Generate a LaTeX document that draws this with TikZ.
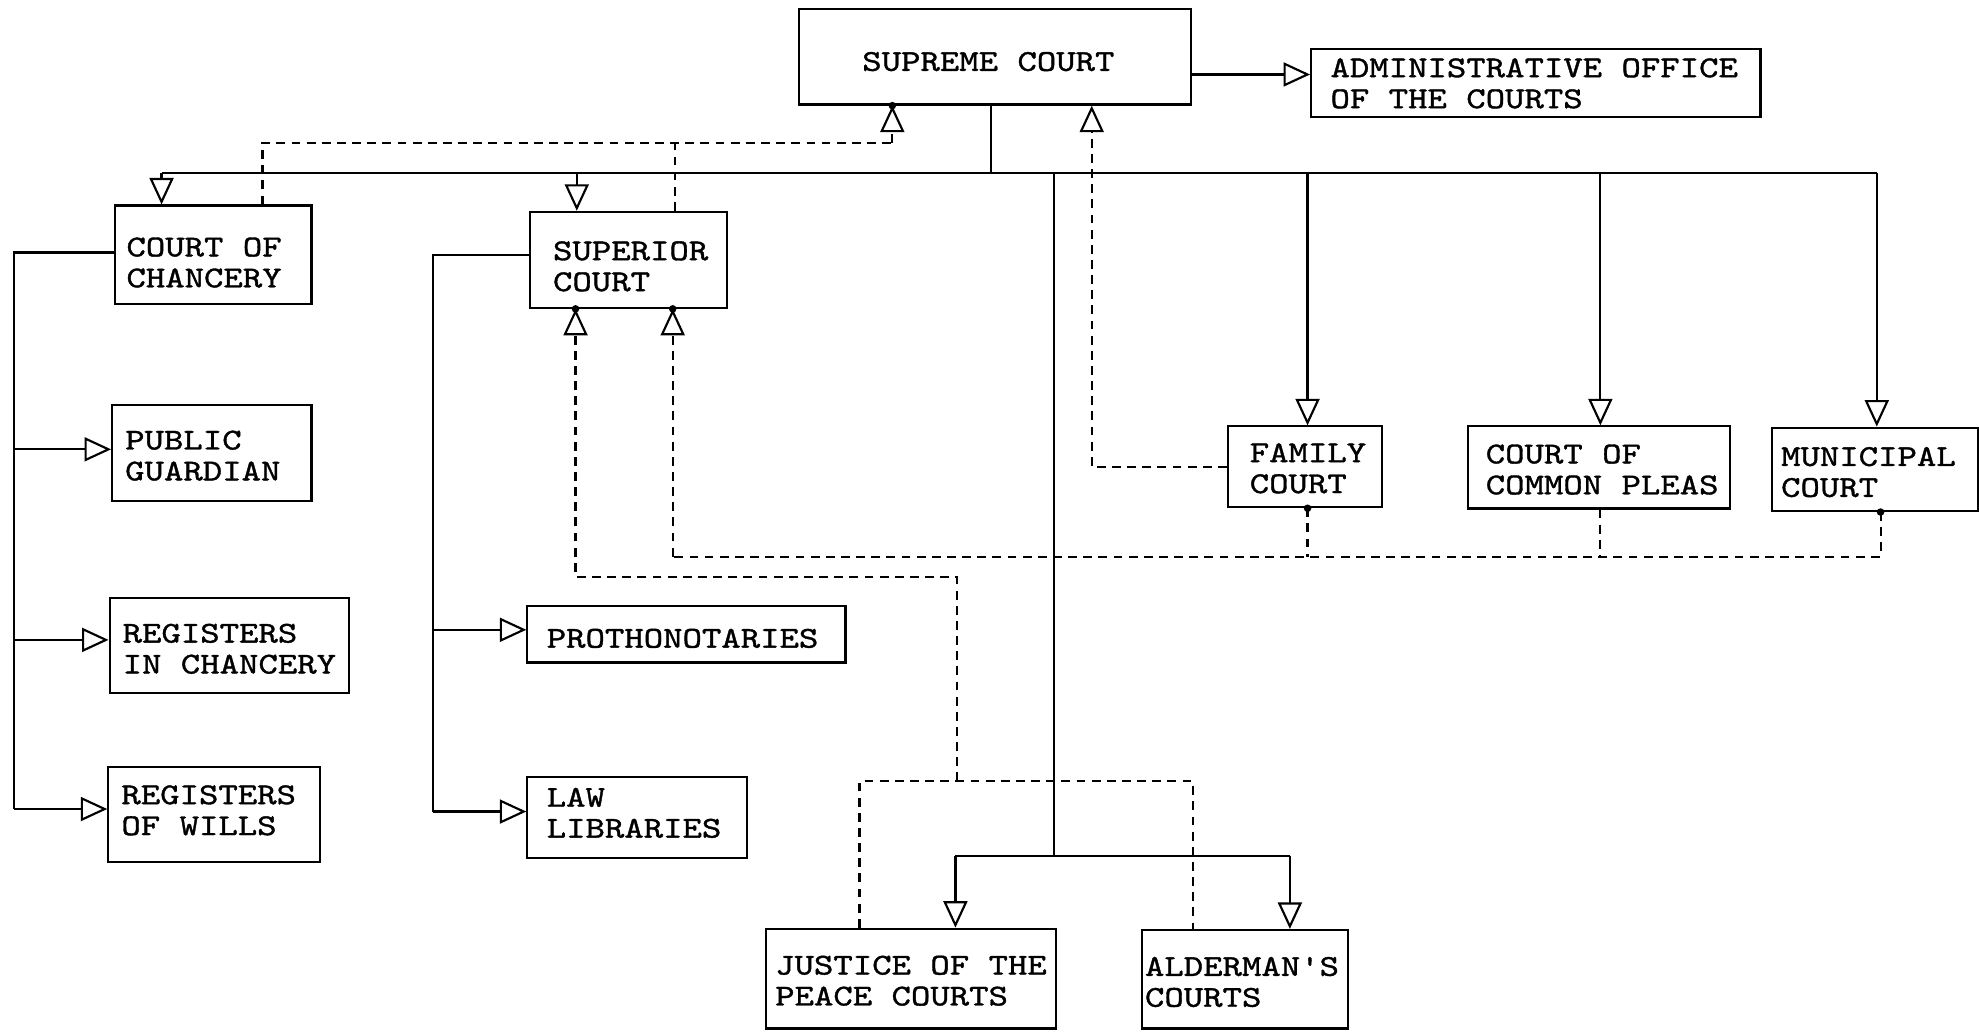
\documentclass[tikz,border=0pt]{standalone}
\usepackage{fontspec}
\usetikzlibrary{arrows.meta}
\newfontfamily\twfont{lmmono10-regular.otf}[FakeStretch=1.22, FakeBold=1.2]
\newcommand\typefont{\fontsize{24}{24.5}\twfont}
\tikzset{
  box/.style={draw, line width=1.7pt, inner sep=0pt, anchor=north west},
  lbl/.style={inner sep=0pt, anchor=north west, align=left, font=\typefont},
  ln/.style={line width=1.7pt},
  arr/.style={ln, -{Triangle[open, length=21pt, width=19pt, line width=1.7pt]}},
  dsh/.style={line width=1.7pt, dash pattern=on 7pt off 5pt},
  darr/.style={dsh, -{Triangle[open, length=21pt, width=19pt, line width=1.7pt]}},
}
\begin{document}
\begin{tikzpicture}[x=1pt,y=-1pt]
\useasboundingbox (0,0) rectangle (1568,817);
% boxes
\node[box, minimum width=311pt, minimum height=76pt] (sup) at (632,6) {};
\node[box, minimum width=356pt, minimum height=54pt] (adm) at (1038,38) {};
\node[box, minimum width=156pt, minimum height=78pt] (chan) at (90,162) {};
\node[box, minimum width=156pt, minimum height=76pt] (supr) at (419,167) {};
\node[box, minimum width=158pt, minimum height=76pt] (pg) at (88,320) {};
\node[box, minimum width=190pt, minimum height=75pt] (ric) at (86,473) {};
\node[box, minimum width=168pt, minimum height=75pt] (rw) at (85,607) {};
\node[box, minimum width=252pt, minimum height=45pt] (pro) at (417,479) {};
\node[box, minimum width=174pt, minimum height=64pt] (law) at (417,615) {};
\node[box, minimum width=122pt, minimum height=64pt] (fam) at (972,337) {};
\node[box, minimum width=208pt, minimum height=65pt] (ccp) at (1162,337) {};
\node[box, minimum width=163pt, minimum height=66pt] (mun) at (1403,338) {};
\node[box, minimum width=230pt, minimum height=79pt] (jp) at (606,735) {};
\node[box, minimum width=163pt, minimum height=78pt] (ald) at (904,736) {};
% texts
\node[lbl] (supT) at (683,41) {SUPREME COURT};
\node[lbl] (admT) at (1054,46) {ADMINISTRATIVE OFFICE\\OF THE COURTS};
\node[lbl] (chanT) at (100,188) {COURT OF\\CHANCERY};
\node[lbl] (suprT) at (438,191) {SUPERIOR\\COURT};
\node[lbl] (pgT) at (99,341) {PUBLIC\\GUARDIAN};
\node[lbl] (ricT) at (97,494) {REGISTERS\\IN CHANCERY};
\node[lbl] (rwT) at (96,622) {REGISTERS\\OF WILLS};
\node[lbl] (proT) at (433,498) {PROTHONOTARIES};
\node[lbl] (lawT) at (433,624) {LAW\\LIBRARIES};
\node[lbl] (famT) at (990,351) {FAMILY\\COURT};
\node[lbl] (ccpT) at (1177,352) {COURT OF\\COMMON PLEAS};
\node[lbl] (munT) at (1411,354) {MUNICIPAL\\COURT};
\node[lbl] (jpT) at (614,757) {JUSTICE OF THE\\PEACE COURTS};
\node[lbl] (aldT) at (907,758) {ALDERMAN'S\\COURTS};
% solid connectors
\coordinate (busL) at (128,137);
\coordinate (busR) at (1487,137);
\draw[ln] (785,0 |- sup.south) -- (785,137);
\draw[ln] (busL) -- (busR);
\draw[arr] (busL) -- (busL |- chan.north);
\draw[arr] (457,137) -- (457,0 |- supr.north);
\draw[arr] (1036,137) -- (1036,0 |- fam.north);
\draw[arr] (1268,137) -- (1268,0 |- ccp.north);
\draw[arr] (busR) -- (busR |- mun.north);
\draw[ln] (835,137) -- (835,678);
\draw[ln] (757,678) -- (1022,678);
\draw[arr] (757,678) -- (757,0 |- jp.north);
\draw[arr] (1022,678) -- (1022,0 |- ald.north);
\draw[arr] (sup.east |- 0,59) -- (adm.west |- 0,59);
\draw[ln] (chan.west |- 0,200) -- (11,200) -- (11,641);
\draw[arr] (11,356) -- (pg.west |- 0,356);
\draw[arr] (11,507) -- (ric.west |- 0,507);
\draw[arr] (11,641) -- (rw.west |- 0,641);
\draw[ln] (supr.west |- 0,202) -- (343,202) -- (343,643);
\draw[arr] (343,499) -- (pro.west |- 0,499);
\draw[arr] (343,643) -- (law.west |- 0,643);
% dashed connectors
\draw[dsh] (208,0 |- chan.north) -- (208,113) -- (707,113);
\draw[darr] (707,113) -- (707,0 |- sup.south);
\draw[dsh] (535,0 |- supr.north) -- (535,113);
\draw[darr] (fam.west |- 0,370) -- (865,370) -- (865,0 |- sup.south);
\draw[dsh] (1036,0 |- fam.south) -- (1036,441);
\draw[dsh] (1268,0 |- ccp.south) -- (1268,441);
\draw[dsh] (1490,0 |- mun.south) -- (1490,441) -- (533,441);
\draw[darr] (533,441) -- (533,0 |- supr.south);
\draw[dsh] (681,0 |- jp.north) -- (681,619) -- (945,619) -- (945,0 |- ald.north);
\draw[darr] (758,619) -- (758,457) -- (456,457) -- (456,0 |- supr.south);
% dots at tips
\fill (707,0 |- sup.south) circle (3pt);
\fill (456,0 |- supr.south) circle (3pt);
\fill (533,0 |- supr.south) circle (3pt);
\fill (1036,0 |- fam.south) circle (3pt);
\fill (1490,0 |- mun.south) circle (3pt);
\end{tikzpicture}
\end{document}
